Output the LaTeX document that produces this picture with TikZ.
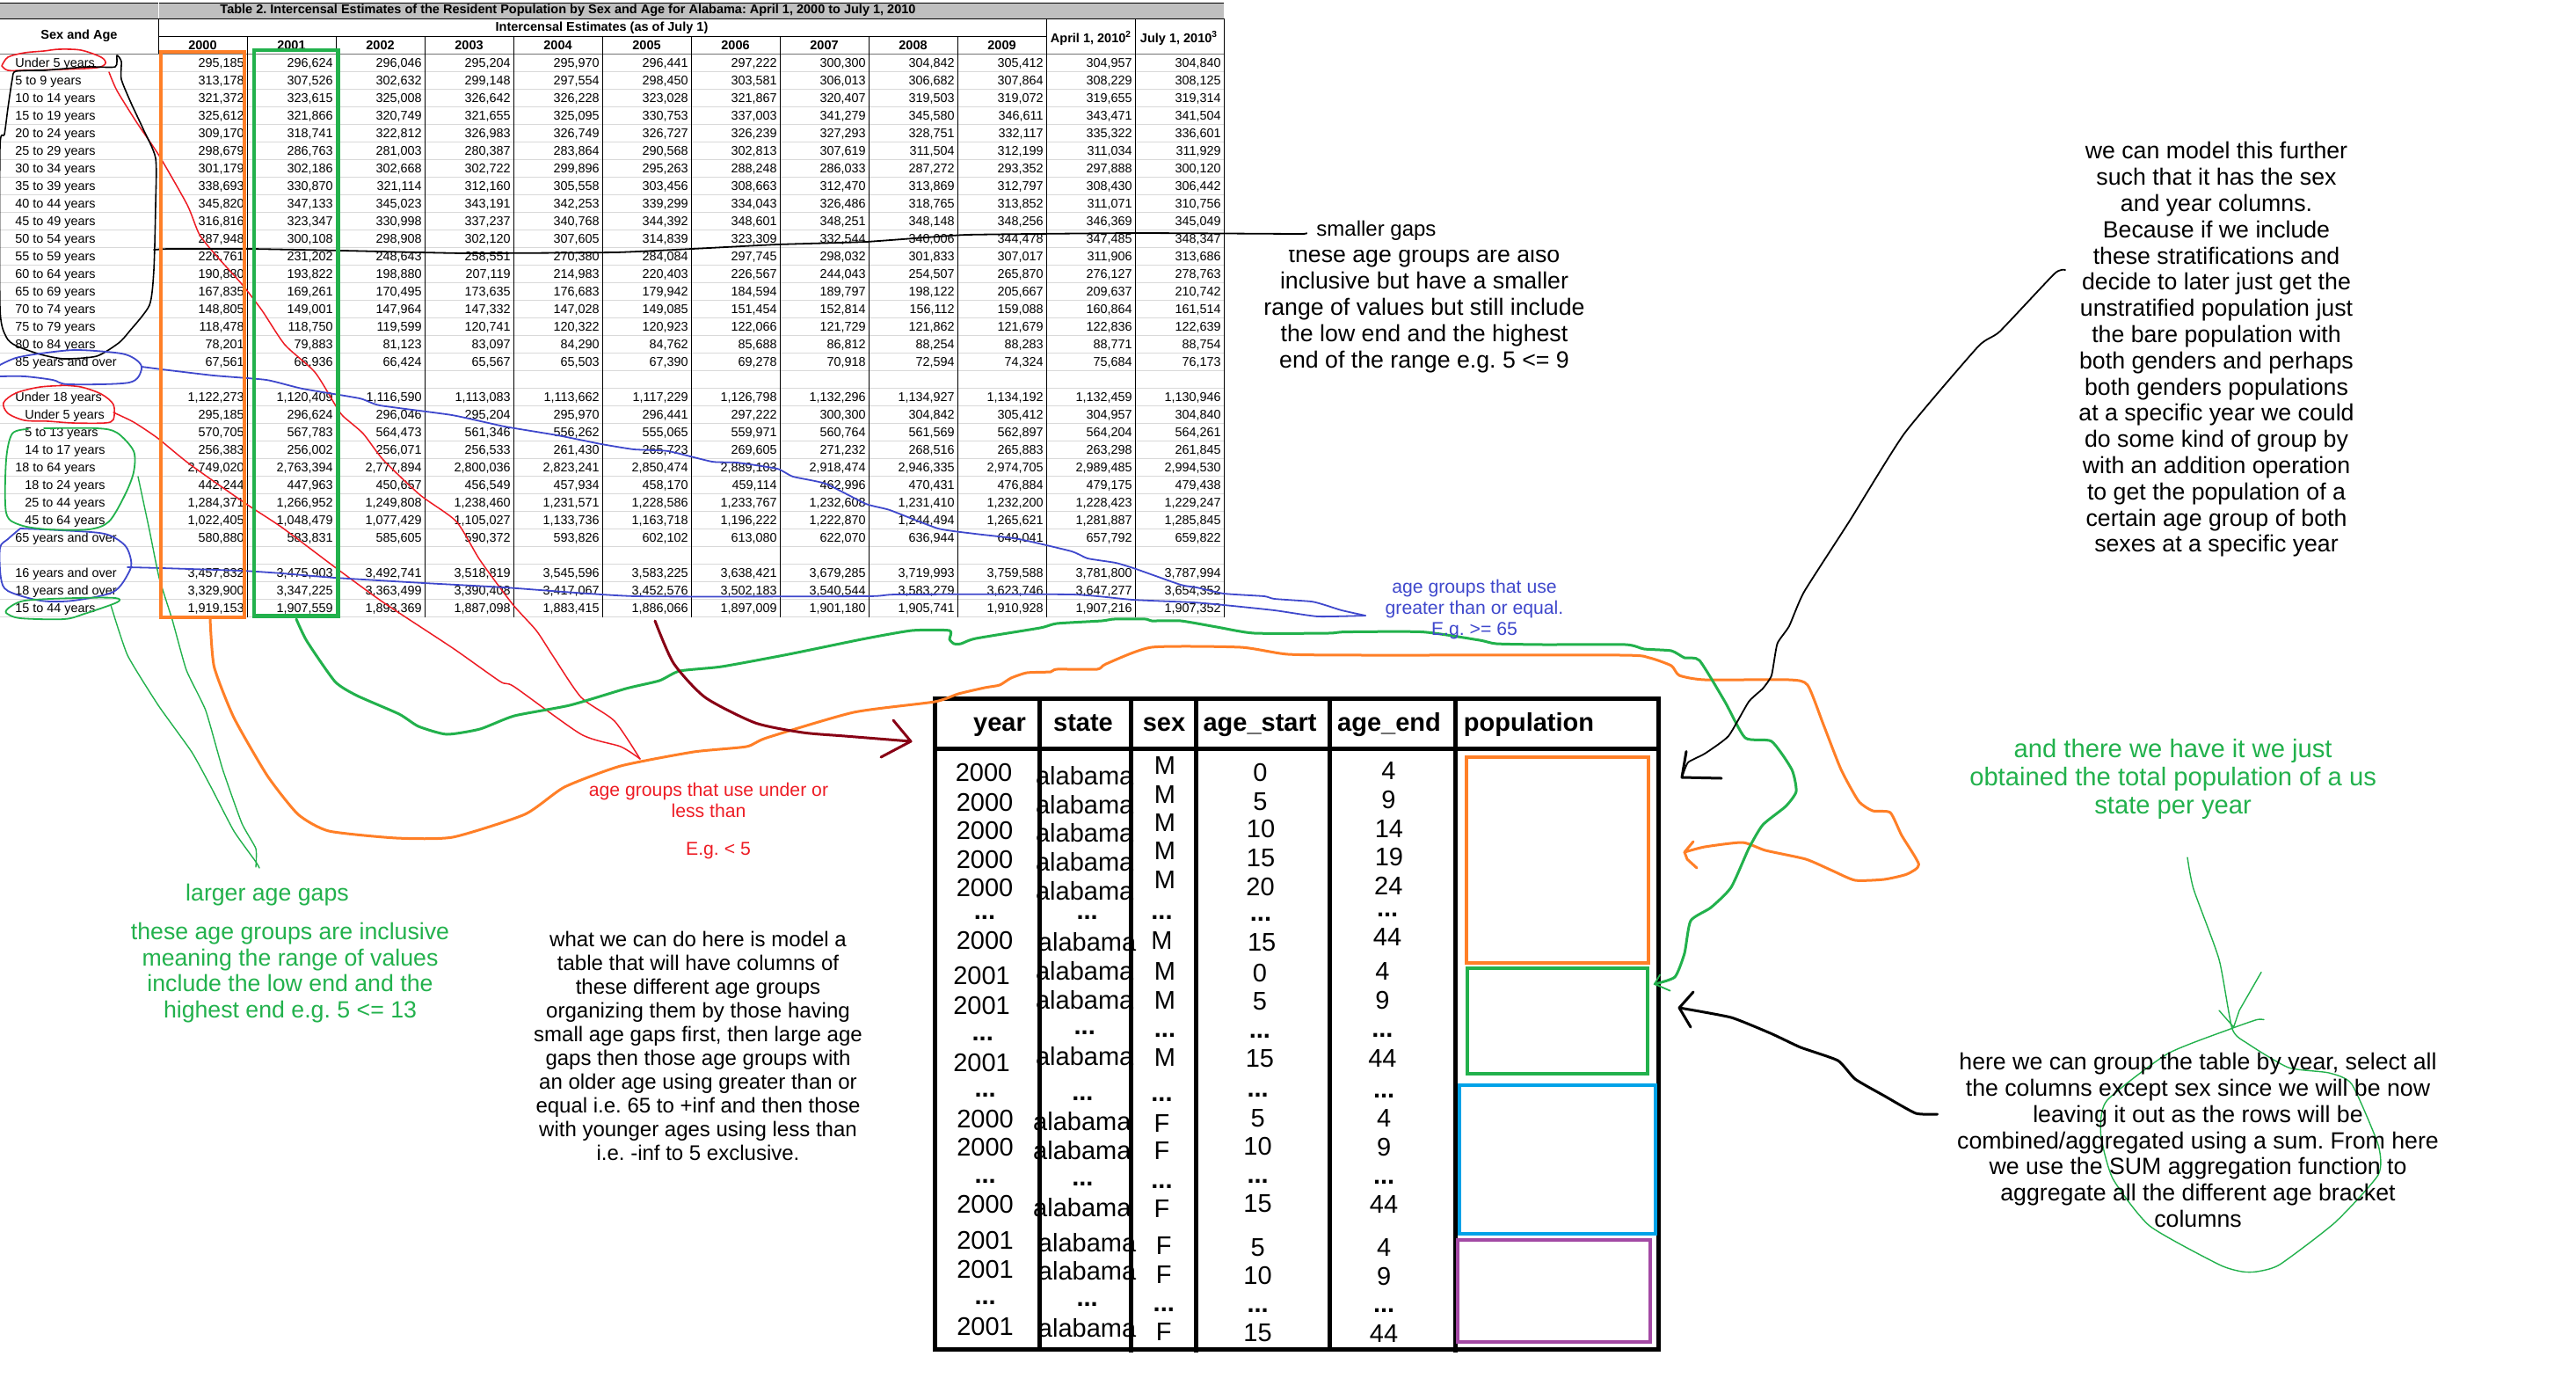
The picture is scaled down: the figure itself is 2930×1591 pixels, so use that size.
\documentclass[tikz,border=0pt]{standalone}
\usepackage{fontspec}
\setmainfont{Liberation Sans}
\frenchspacing
\usetikzlibrary{fit}
\definecolor{paintorange}{HTML}{FF7F27}
\definecolor{paintgreen}{HTML}{22B14C}
\definecolor{paintred}{HTML}{ED1C24}
\definecolor{paintblue}{HTML}{3F48CC}
\definecolor{paintdark}{HTML}{880015}
\definecolor{paintcyan}{HTML}{00A2E8}
\definecolor{paintpurple}{HTML}{A349A4}
\newcommand{\dd}{\textbf{...}}
\newcommand{\datarow}[4][17]{%
	\node[rowlabel] (lab#2) at (#1,{76.5+20*#2}) {#3};
	\foreach \v [count=\c] in {#4}
		\node[numcell] (num#2-\c) at ({177+101*\c},{76.5+20*#2}) {\v};
}

\begin{document}
\begin{tikzpicture}
		[x=0.5pt,y=-0.5pt,
		rowlabel/.style={anchor=base west,inner sep=0pt,font=\fontsize{7.2}{9}\selectfont},
		numcell/.style={anchor=base east,inner sep=0pt,font=\fontsize{7.2}{9}\selectfont},
		headcell/.style={inner sep=0pt,font=\fontsize{7.25}{9}\selectfont\bfseries},
		bighead/.style={anchor=base,inner sep=0pt,font=\fontsize{14.5}{17}\selectfont\bfseries},
		bigcell/.style={inner sep=0pt,font=\fontsize{14.5}{17}\selectfont},
		note/.style={inner sep=0pt,align=center,font=\fontsize{13.35}{14.9}\selectfont},
		smallnote/.style={inner sep=0pt,align=center,font=\fontsize{12}{13.5}\selectfont},
		tagnote/.style={inner sep=0pt,align=center,font=\fontsize{10.6}{12}\selectfont},
		colbox/.style={draw,inner sep=0pt,line width=2.4pt},
		popbox/.style={draw,inner sep=0pt,line width=2pt},
		gridline/.style={line width=0.5pt,black!15},
		tabline/.style={line width=0.5pt,black},
		heavyline/.style={line width=2.5pt,black},
		thinpen/.style={line width=0.7pt,line join=round,line cap=round},
		midpen/.style={line width=0.9pt,line join=round,line cap=round},
		thickpen/.style={line width=1.5pt,line join=round,line cap=round}]

		\useasboundingbox (0,0) rectangle (2930,1591);

		\fill[black!25] (0,3) rectangle (1392,21);
		\draw[tabline] (0,3) -- (1392,3);
		\draw[tabline] (0,21) -- (1392,21);
		\draw[white,line width=0.5pt] (180,3) -- (180,21);
		\foreach \r in {0,...,32}
			\draw[gridline] (0,{61.3+20*\r}) -- (1392,{61.3+20*\r});
		\draw[line width=0.5pt,black!55] (0,61.3) -- (1392,61.3);
		\draw[tabline] (180,41.3) -- (1190,41.3);
		\draw[tabline] (180,21) -- (180,61.3);
		\foreach \x in {281,382.5,483.5,584.5,685.5,786,887,988,1089}
			\draw[tabline] (\x,41.3) -- (\x,701.5);
		\foreach \x in {1190,1291,1392}
			\draw[tabline] (\x,21) -- (\x,701.5);

		\node[headcell] (title) at (646,12) {Table 2. Intercensal Estimates of the Resident Population by Sex and Age for Alabama: April 1, 2000 to July 1, 2010};
		\node[headcell] (sexage) at (90,41) {Sex and Age};
		\node[headcell] (inter) at (684.5,32) {Intercensal Estimates (as of July 1)};
		\foreach \y [count=\c] in {2000,...,2009}
			\node[headcell] (head\y) at ({129.5+101*\c},52) {\y};
		\node[headcell] (headapr) at (1241,43) {April 1, 2010\textsuperscript{2}};
		\node[headcell] (headjul) at (1341,43) {July 1, 2010\textsuperscript{3}};

		\datarow{0}{Under 5 years}{{295,185},{296,624},{296,046},{295,204},{295,970},{296,441},{297,222},{300,300},{304,842},{305,412},{304,957},{304,840}}
		\datarow{1}{5 to 9 years}{{313,178},{307,526},{302,632},{299,148},{297,554},{298,450},{303,581},{306,013},{306,682},{307,864},{308,229},{308,125}}
		\datarow{2}{10 to 14 years}{{321,372},{323,615},{325,008},{326,642},{326,228},{323,028},{321,867},{320,407},{319,503},{319,072},{319,655},{319,314}}
		\datarow{3}{15 to 19 years}{{325,612},{321,866},{320,749},{321,655},{325,095},{330,753},{337,003},{341,279},{345,580},{346,611},{343,471},{341,504}}
		\datarow{4}{20 to 24 years}{{309,170},{318,741},{322,812},{326,983},{326,749},{326,727},{326,239},{327,293},{328,751},{332,117},{335,322},{336,601}}
		\datarow{5}{25 to 29 years}{{298,679},{286,763},{281,003},{280,387},{283,864},{290,568},{302,813},{307,619},{311,504},{312,199},{311,034},{311,929}}
		\datarow{6}{30 to 34 years}{{301,179},{302,186},{302,668},{302,722},{299,896},{295,263},{288,248},{286,033},{287,272},{293,352},{297,888},{300,120}}
		\datarow{7}{35 to 39 years}{{338,693},{330,870},{321,114},{312,160},{305,558},{303,456},{308,663},{312,470},{313,869},{312,797},{308,430},{306,442}}
		\datarow{8}{40 to 44 years}{{345,820},{347,133},{345,023},{343,191},{342,253},{339,299},{334,043},{326,486},{318,765},{313,852},{311,071},{310,756}}
		\datarow{9}{45 to 49 years}{{316,816},{323,347},{330,998},{337,237},{340,768},{344,392},{348,601},{348,251},{348,148},{348,256},{346,369},{345,049}}
		\datarow{10}{50 to 54 years}{{287,948},{300,108},{298,908},{302,120},{307,605},{314,839},{323,309},{332,544},{340,006},{344,478},{347,485},{348,347}}
		\datarow{11}{55 to 59 years}{{226,761},{231,202},{248,643},{258,551},{270,380},{284,084},{297,745},{298,032},{301,833},{307,017},{311,906},{313,686}}
		\datarow{12}{60 to 64 years}{{190,880},{193,822},{198,880},{207,119},{214,983},{220,403},{226,567},{244,043},{254,507},{265,870},{276,127},{278,763}}
		\datarow{13}{65 to 69 years}{{167,835},{169,261},{170,495},{173,635},{176,683},{179,942},{184,594},{189,797},{198,122},{205,667},{209,637},{210,742}}
		\datarow{14}{70 to 74 years}{{148,805},{149,001},{147,964},{147,332},{147,028},{149,085},{151,454},{152,814},{156,112},{159,088},{160,864},{161,514}}
		\datarow{15}{75 to 79 years}{{118,478},{118,750},{119,599},{120,741},{120,322},{120,923},{122,066},{121,729},{121,862},{121,679},{122,836},{122,639}}
		\datarow{16}{80 to 84 years}{{78,201},{79,883},{81,123},{83,097},{84,290},{84,762},{85,688},{86,812},{88,254},{88,283},{88,771},{88,754}}
		\datarow{17}{85 years and over}{{67,561},{66,936},{66,424},{65,567},{65,503},{67,390},{69,278},{70,918},{72,594},{74,324},{75,684},{76,173}}
		\datarow{19}{Under 18 years}{{1,122,273},{1,120,409},{1,116,590},{1,113,083},{1,113,662},{1,117,229},{1,126,798},{1,132,296},{1,134,927},{1,134,192},{1,132,459},{1,130,946}}
		\datarow[28]{20}{Under 5 years}{{295,185},{296,624},{296,046},{295,204},{295,970},{296,441},{297,222},{300,300},{304,842},{305,412},{304,957},{304,840}}
		\datarow[28]{21}{5 to 13 years}{{570,705},{567,783},{564,473},{561,346},{556,262},{555,065},{559,971},{560,764},{561,569},{562,897},{564,204},{564,261}}
		\datarow[28]{22}{14 to 17 years}{{256,383},{256,002},{256,071},{256,533},{261,430},{265,723},{269,605},{271,232},{268,516},{265,883},{263,298},{261,845}}
		\datarow{23}{18 to 64 years}{{2,749,020},{2,763,394},{2,777,894},{2,800,036},{2,823,241},{2,850,474},{2,889,103},{2,918,474},{2,946,335},{2,974,705},{2,989,485},{2,994,530}}
		\datarow[28]{24}{18 to 24 years}{{442,244},{447,963},{450,657},{456,549},{457,934},{458,170},{459,114},{462,996},{470,431},{476,884},{479,175},{479,438}}
		\datarow[28]{25}{25 to 44 years}{{1,284,371},{1,266,952},{1,249,808},{1,238,460},{1,231,571},{1,228,586},{1,233,767},{1,232,608},{1,231,410},{1,232,200},{1,228,423},{1,229,247}}
		\datarow[28]{26}{45 to 64 years}{{1,022,405},{1,048,479},{1,077,429},{1,105,027},{1,133,736},{1,163,718},{1,196,222},{1,222,870},{1,244,494},{1,265,621},{1,281,887},{1,285,845}}
		\datarow{27}{65 years and over}{{580,880},{583,831},{585,605},{590,372},{593,826},{602,102},{613,080},{622,070},{636,944},{649,041},{657,792},{659,822}}
		\datarow{29}{16 years and over}{{3,457,832},{3,475,903},{3,492,741},{3,518,819},{3,545,596},{3,583,225},{3,638,421},{3,679,285},{3,719,993},{3,759,588},{3,781,800},{3,787,994}}
		\datarow{30}{18 years and over}{{3,329,900},{3,347,225},{3,363,499},{3,390,408},{3,417,067},{3,452,576},{3,502,183},{3,540,544},{3,583,279},{3,623,746},{3,647,277},{3,654,352}}
		\datarow{31}{15 to 44 years}{{1,919,153},{1,907,559},{1,893,369},{1,887,098},{1,883,415},{1,886,066},{1,897,009},{1,901,180},{1,905,741},{1,910,928},{1,907,216},{1,907,352}}

		\coordinate (redfromA) at (124,82);
		\coordinate (redfromB) at (129,469);
		\coordinate (redtip) at (728,863);
		\draw[thinpen,paintred,line width=0.8pt] plot[smooth,tension=.5] coordinates {(2,75)(9,65)(28,60)(50,58)(67,56)(92,57)(115,65)(120,72)(110,77)(69,79)(28,80)(9,80)(2,75)};
		\draw[thinpen,paintred,line width=0.8pt] plot[smooth,tension=.5] coordinates {(82,438)(46,440)(18,447)(4,458)(9,470)(28,478)(55,479)(83,481)(119,481)(129,477)(129,460)(115,448)(92,440)(69,438)};
		\draw[thinpen,paintred,line width=0.75pt] plot[smooth,tension=.4] coordinates {(redfromA)(133,103)(156,140)(181,177)(213,233)(227,267)(248,293)(275,323)(298,353)(324,392)(358,423)(381,460)(390,473)(413,493)(436,523)(478,563)(519,593)(546,637)(583,687)(610,717)(629,746)(661,793)(699,820)(redtip)};
		\draw[thinpen,paintred,line width=0.75pt] plot[smooth,tension=.4] coordinates {(redfromB)(152,480)(179,498)(216,528)(280,573)(321,600)(381,645)(436,685)(515,737)(569,775)(585,781)(661,835)(706,849)(redtip)};

		\draw[midpen,black,line width=0.8pt] plot[smooth,tension=.4] coordinates {(51,80)(18,81)(14,90)(9,123)(5,153)(0,167)(0,350)(7,383)(18,393)(46,403)(73,408)(110,405)(135,390)(147,377)(170,347)(175,307)(177,233)(177,180)(163,147)(149,117)(138,90)(138,70)(133,63)(131,76)(100,76)(51,80)};

		\coordinate (gapfrom) at (175,284);
		\coordinate (gapto) at (1486,265);
		\draw[midpen,black] plot[smooth,tension=.2] coordinates {(gapfrom)(193,283)(285,283)(390,285)(528,288)(700,287)(787,283)(884,278)(985,275)(1099,267)(1291,265)(1478,266)(gapto)};

		\draw[midpen,paintblue] plot[smooth,tension=.5] coordinates {(0,415)(18,407)(46,402)(87,398)(138,402)(156,410)(161,420)(147,435)(78,437)(60,432)(28,428)(0,428)};
		\draw[midpen,paintblue] plot[smooth,tension=.5] coordinates {(23,601)(9,613)(0,623)(1,657)(9,672)(46,683)(83,683)(129,673)(147,650)(149,637)(142,620)(119,607)(69,603)(23,601)};
		\coordinate (bluefromA) at (161,417);
		\coordinate (bluefromB) at (145,645);
		\coordinate (blueto) at (1553,700);
		\draw[midpen,paintblue] plot[smooth,tension=.3] coordinates {(bluefromA)(184,420)(243,427)(303,432)(344,442)(409,453)(432,461)(514,472)(574,485)(634,495)(684,505)(721,511)(760,513)(810,525)(838,526)(884,533)(902,542)(939,550)(985,573)(1012,580)(1067,601)(1109,607)(1159,613)(1219,627)(1237,635)(1269,640)(1292,647)(1343,665)(1361,668)(1392,675)(1438,678)(1449.5,681)(1491.6,684)(1507,688)(1526,694)(blueto)};
		\draw[midpen,paintblue] plot[smooth,tension=.3] coordinates {(bluefromB)(184,646)(275,649)(321,652)(381,657)(482,663)(574,668)(723,678)(985,678)(1021,676)(1219,676)(1288,682)(1357,685)(1392,688)(1449.5,694)(1499,701)(blueto)};

		\draw[midpen,paintgreen] plot[smooth,tension=.5] coordinates {(32,488)(14,493)(7,523)(7,583)(23,597)(55,602)(101,602)(124,593)(142,563)(152,537)(152,513)(133,492)(110,487)(50,487)};
		\draw[midpen,paintgreen] plot[smooth,tension=.5] coordinates {(9,692)(28,683)(87,680)(131,680)(133,685)(96,698)(73,704)(23,703)(7,697)(9,692)};
		\coordinate (greenfromA) at (126,688);
		\coordinate (greenfromB) at (157,542);
		\coordinate (greentoA) at (295,987);
		\coordinate (greentoB) at (291,986);
		\draw[thinpen,paintgreen] plot[smooth,tension=.3] coordinates {(greenfromA)(145,745)(180,802)(218,855)(240,895)(266,945)(291,980)(greentoA)};
		\draw[thinpen,paintgreen] plot[smooth,tension=.3] coordinates {(greenfromB)(170,603)(181,657)(196,705)(212,762)(234,808)(253,874)(275,936)(291,965)(greentoB)};

		\node[colbox,paintorange,fit={(183,59)(278,702)}] (orangecol) {};
		\node[colbox,paintgreen,fit={(289,57)(384.3,700.5)}] (greencol) {};

		\foreach \x/\y/\t [count=\i] in {1119/878.3/2000,1120/912.4/2000,1120/945/2000,1120/977.1/2000,1120/1009.7/2000,1120/1043.8/\dd,1120/1069.7/2000,1116.6/1110/2001,1116.6/1143.2/2001,1117.7/1180.9/\dd,1116.6/1208.3/2001,1120.6/1245.6/\dd,1120.6/1272/2000,1120.6/1304/2000,1120.6/1342.9/\dd,1120.6/1369.2/2000,1120.6/1410.1/2001,1120.6/1443.2/2001,1120.6/1481/\dd,1120.6/1508.4/2001}
			\node[bigcell] (year\i) at (\x,\y) {\t};
		\foreach \x/\y/\t [count=\i] in {1233.7/882.4/alabama,1233.7/915/alabama,1233.7/947.1/alabama,1233.7/980.2/alabama,1233.7/1012.8/alabama,1236.6/1043.8/\dd,1236.6/1070.7/alabama,1233.7/1104.4/alabama,1233.7/1137/alabama,1233.7/1174.2/\dd,1233.7/1201.1/alabama,1231.4/1249.2/\dd,1230.8/1275.6/alabama,1230.8/1307.7/alabama,1231.4/1346.5/\dd,1230.8/1373.4/alabama,1236.6/1413.2/alabama,1236.6/1445.3/alabama,1236.6/1483.6/\dd,1236.6/1510.5/alabama}
			\node[bigcell] (state\i) at (\x,\y) {\t};
		\foreach \x/\y/\t [count=\i] in {1325/870.5/M,1325/903.1/M,1325/935.2/M,1325/967.3/M,1325/1000.4/M,1321.5/1043.8/\dd,1321.5/1069.7/M,1325/1104.9/M,1325/1137.5/M,1325/1177.3/\dd,1325/1202.7/M,1321.5/1250.8/\dd,1321.5/1277.2/F,1321.5/1308.7/F,1321.5/1349/\dd,1321.5/1374.9/F,1323.8/1416.3/F,1323.8/1449.9/F,1323.8/1489.8/\dd,1323.8/1514.6/F}
			\node[bigcell] (sex\i) at (\x,\y) {\t};
		\foreach \x/\y/\t [count=\i] in {1433.5/878.3/0,1433.5/911.4/5,1434/943/10,1434/975.5/15,1433.5/1008.7/20,1434/1045.4/\dd,1435.2/1071.3/15,1432.9/1106.4/0,1432.9/1139/5,1432.9/1178.3/\dd,1432.9/1203.7/15,1430.6/1245.6/\dd,1430.6/1271.5/5,1430.6/1303.5/10,1430.6/1342.9/\dd,1430.6/1368.7/15,1430.6/1418.4/5,1430.6/1450.4/10,1430.6/1490.3/\dd,1430.6/1515.7/15}
			\node[bigcell] (start\i) at (\x,\y) {\t};
		\foreach \x/\y/\t [count=\i] in {1579.3/876.7/4,1579.3/909.3/9,1579.9/942.4/14,1579.9/974.5/19,1579.3/1007.6/24,1578.1/1040.2/\dd,1578.1/1065.6/44,1572.4/1104.9/4,1572.4/1138/9,1572.4/1177.3/\dd,1572.4/1203.2/44,1574.1/1246.6/\dd,1574.1/1272/4,1574.1/1304/9,1574.1/1343.9/\dd,1574.1/1369.2/44,1574.1/1418.9/4,1574.1/1451/9,1574.1/1490.3/\dd,1574.1/1516.2/44}
			\node[bigcell] (end\i) at (\x,\y) {\t};

		\draw[heavyline] (1063.5,794) rectangle (1886.7,1534);
		\draw[heavyline] (1063.5,851) -- (1886.7,851);
		\draw[heavyline] (1182,794) -- (1182,1534);
		\foreach \x in {1286,1360,1655.6}
			\draw[heavyline] (\x,794) -- (\x,1538);
		\draw[heavyline] (1512.7,794) -- (1512.7,1534);
		\node[bighead] (hyear) at (1137,831) {year};
		\node[bighead] (hstate) at (1232,831) {state};
		\node[bighead] (hsex) at (1324,831) {sex};
		\node[bighead] (hstart) at (1433,831) {age\_start};
		\node[bighead] (hend) at (1580,831) {age\_end};
		\node[bighead] (hpop) at (1739,831) {population};

		\node[popbox,paintorange,fit={(1668,861)(1875,1094.5)}] (orangepop) {};
		\node[popbox,paintgreen,fit={(1669.4,1100.7)(1874.3,1221)}] (greenpop) {};
		\node[popbox,paintcyan,fit={(1660,1233.7)(1883,1402.9)}] (cyanpop) {};
		\node[popbox,paintpurple,fit={(1658,1409.6)(1877,1525.5)}] (purplepop) {};

		\coordinate (orangefrom) at (239,704);
		\coordinate (orangetip) at (1916,969);
		\coordinate (greenfrom) at (337,704);
		\coordinate (greentip) at (1882,1119);
		\draw[thickpen,paintorange] plot[smooth,tension=.35] coordinates {(orangefrom)(243.5,758)(266,816)(304,882)(339,926)(374,945)(451,953)(515,952)(597,926)(642,895)(706,871)(789,855)(849,849)(872,839)(971,810)(1063,798)(1090,789)(1120,782)(1137,779)(1150,771)(1168,765)(1195,764)(1202,761)(1248,761)(1258,755)(1310,736)(1411,736)(1465,744)(1553,745)(1844,745)(1876,748)(1901,757)(1910,768)(1939,773)(2035,773)(2056,779)(2074,824)(2094,875)(2114,911)(2130,922)(2150,924)(2163,950)(2182.5,983)(2169,994)(2143,1000)(2110,1001)(2084,990)(2054,977)(2008,967)(1982,958)(1939,963)(orangetip)};
		\draw[thickpen,paintorange] (1926,957) -- (orangetip) -- (1919,977) -- (1930,987);
		\draw[thickpen,paintgreen] plot[smooth,tension=.35] coordinates {(greenfrom)(349,729)(381,775)(406,791)(454,812)(476,826)(508,835)(546,829)(585,814)(648,802)(712,783)(750,774)(773,763)(821,758)(897,744)(980,727)(1037,717)(1080,717)(1080,727)(1085,732)(1093,732)(1110,726)(1183,714)(1202,709)(1253,706)(1267,704)(1303,704)(1310,706)(1343,706)(1384,713)(1426.5,720)(1511,720)(1530,718.6)(1618,718.6)(1683,728)(1702,732)(1756,733)(1849,733)(1870,738)(1901,740)(1916,748)(1933,751)(1962,798)(1985,839)(2015,843)(2038,875)(2043,900)(2031,917)(2005,938)(1989,965)(1969,1009)(1946,1032)(1923,1047)(1916,1084)(1905,1111)(greentip)};
		\draw[midpen,paintgreen] (1888,1108.5) -- (greentip) -- (1899.6,1126.6);

		\coordinate (modelfrom) at (2349,307);
		\coordinate (modeltip) at (1913,884);
		\draw[midpen,black] plot[smooth,tension=.3] coordinates {(modelfrom)(2337,311)(2274.5,377)(2250,394)(2166,493)(2104,592)(2052,673)(2035,712)(2021.5,732)(2015,768)(2005,783)(1989,798)(1966,837)(1939,857)(1920,867)(modeltip)};
		\draw[thickpen,black] (1918,854.5) -- (modeltip) -- (1958,885);

		\coordinate (groupfrom) at (2203.5,1267);
		\coordinate (grouptip) at (1910,1146);
		\draw[thickpen,black] plot[smooth,tension=.3] coordinates {(groupfrom)(2179,1266)(2143,1246)(2110,1227)(2090.5,1206)(2048,1191)(2015,1175.5)(1969,1157)(grouptip)};
		\draw[thickpen,black] (1926,1128) -- (grouptip) -- (1923,1168);

		\coordinate (darkfrom) at (745,706);
		\coordinate (darktip) at (1036,843);
		\draw[thickpen,paintdark] plot[smooth,tension=.4] coordinates {(darkfrom)(766,754)(802,793)(859,822)(913,833)(961,837)(darktip)};
		\draw[thickpen,paintdark] (1016,819) -- (darktip) -- (1002,861);

		\coordinate (sumfrom) at (2488,975);
		\draw[thinpen,paintgreen] plot[smooth,tension=.35] coordinates {(sumfrom)(2495,1011)(2524,1091)(2539,1170)(2557,1187)(2603,1214)(2649,1220)(2675,1233)(2705,1302)(2705,1336)(2656,1390)(2593,1438)(2567,1446)(2550,1446)(2524,1438)(2445,1394)(2403,1340)(2389.5,1290)(2396,1252)(2465,1198.5)(2537,1170)(2567,1159.5)(2575,1159.5)};
		\draw[thinpen,paintgreen] (2572,1105.5) -- (2547,1149) -- (2540.6,1168) -- (2524,1149);

		\node[note] (alsotext) at (1620,351.5) {these age groups are also\\inclusive but have a smaller\\range of values but still include\\the low end and the highest\\end of the range e.g. 5 <= 9};
		\fill[white] (1460,270) rectangle (1790,283.5);
		\node[inner sep=0pt,font=\fontsize{12}{14}\selectfont] (smallgaps) at (1565.5,262) {smaller gaps};
		\node[tagnote,text=paintblue] (bluetext) at (1677,693) {age groups that use\\greater than or equal.\\E.g. >= 65};
		\node[tagnote,text=paintred] (redtext) at (806,910) {age groups that use under or\\less than};
		\node[tagnote,text=paintred] (redeg) at (817,967) {E.g. < 5};
		\node[note,text=paintgreen] (largegaps) at (304,1017.5) {larger age gaps};
		\node[note,text=paintgreen] (greentext) at (330,1106) {these age groups are inclusive\\meaning the range of values\\include the low end and the\\highest end e.g. 5 <= 13};
		\node[smallnote] (whattext) at (794,1189) {what we can do here is model a\\table that will have columns of\\these different age groups\\organizing them by those having\\small age gaps first, then large age\\gaps then those age groups with\\an older age using greater than or\\equal i.e. 65 to +inf and then those\\with younger ages using less than\\i.e. -inf to 5 exclusive.};
		\node[note] (modeltext) at (2521,397.5) {we can model this further\\such that it has the sex\\and year columns.\\Because if we include\\these stratifications and\\decide to later just get the\\unstratified population just\\the bare population with\\both genders and perhaps\\both genders populations\\at a specific year we could\\do some kind of group by\\with an addition operation\\to get the population of a\\certain age group of both\\sexes at a specific year};
		\node[inner sep=0pt,align=center,text=paintgreen,font=\fontsize{14.6}{16}\selectfont] (obtained) at (2471.6,885.5) {and there we have it we just\\obtained the total population of a us\\state per year};
		\node[note] (grouptext) at (2500,1296.5) {here we can group the table by year, select all\\the columns except sex since we will be now\\leaving it out as the rows will be\\combined/aggregated using a sum. From here\\we use the SUM aggregation function to\\aggregate all the different age bracket\\columns};

	\end{tikzpicture}
\end{document}
